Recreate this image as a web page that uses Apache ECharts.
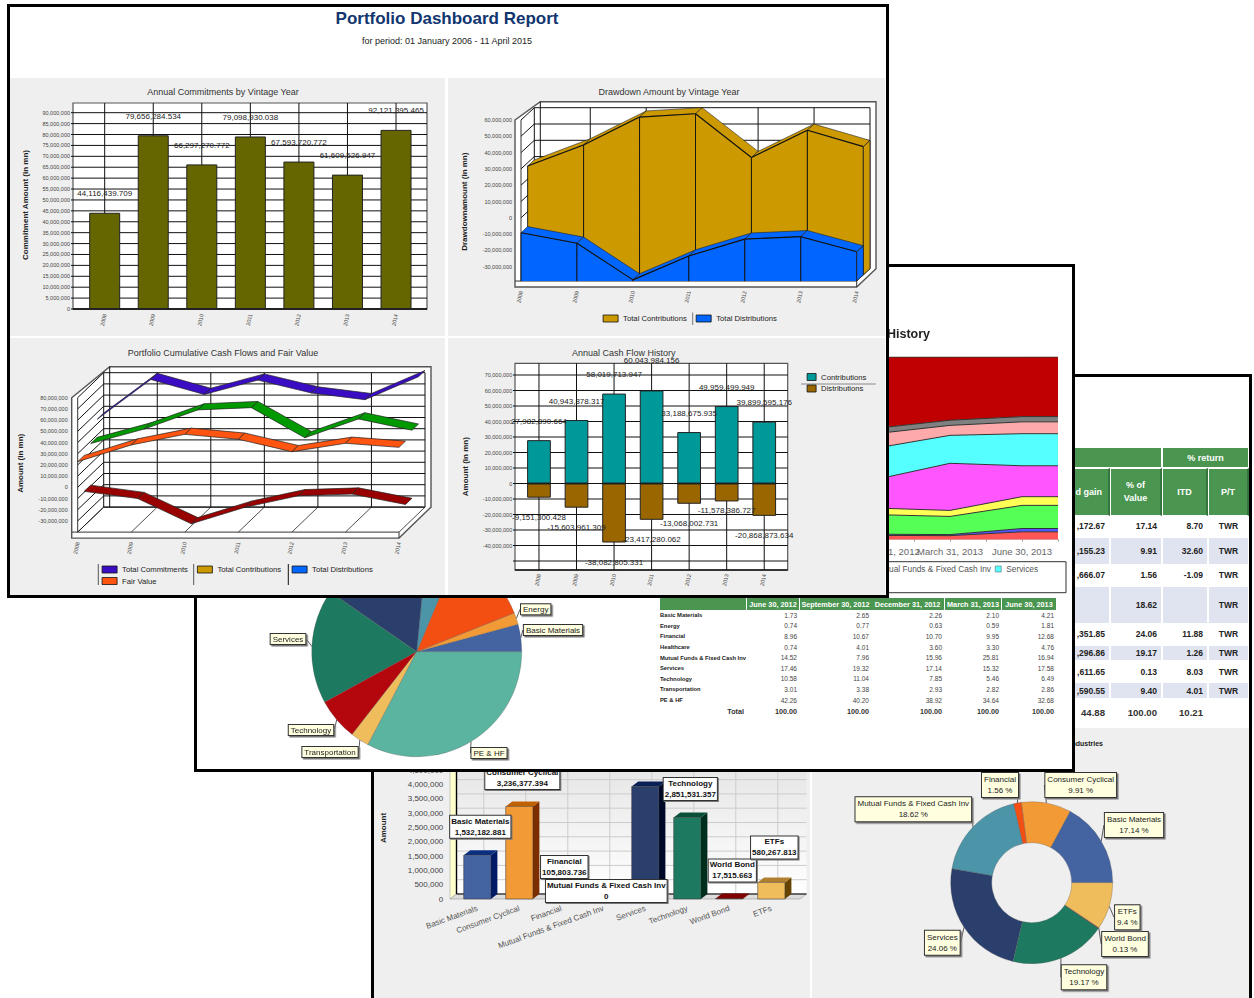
<!DOCTYPE html>
<html>
<head>
<meta charset="utf-8">
<title>Portfolio Dashboard Report</title>
<script src="https://cdn.jsdelivr.net/npm/echarts@6/dist/echarts.min.js"></script>
<style>
  html, body { margin: 0; padding: 0; background: #fff; width: 1254px; height: 998px; overflow: hidden; font-family: 'Liberation Sans', sans-serif; }
  #page { position: absolute; left: 0; top: 0; width: 1254px; height: 998px; overflow: hidden; filter: blur(0.35px); }
  .panel { position: absolute; box-sizing: border-box; border: 3px solid #000; background: #fff; }
  .chart { position: absolute; left: 0; top: 0; width: 1254px; height: 998px; }
  .gray { position: absolute; background: #efefef; }
  table { position: absolute; table-layout: fixed; border-collapse: separate; border-spacing: 0; }
  #allocTable { left: 659px; top: 598px; width: 397px; font-size: 6.5px; color: #444; }
  #allocTable th { background: #4a9650; color: #fff; height: 12px; padding: 0; font-size: 7.3px; border-left: 1px solid #fff; white-space: nowrap; }
  #allocTable th.joined { border-left: 0; }
  #allocTable td { height: 10.6px; padding: 0 2px 0 0; text-align: right; }
  #allocTable td.name { text-align: left; padding-left: 1px; font-weight: bold; font-size: 5.8px; color: #222; white-space: nowrap; }
  #allocTable tr.total td { font-weight: bold; font-size: 7.2px; height: 12px; color: #333; }
  #holdTable { left: 1040px; top: 447px; width: 209px; font-size: 8.5px; font-weight: bold; color: #222; }
  #holdTable th { background: #4a9650; color: #fff; font-size: 9px; padding: 0; border: 1px solid #fff; }
  #holdTable tr.sub th { border-right: 2px solid #36743e; height: 46px; line-height: 13px; }
  #holdTable td { border: 1px solid #fff; padding: 0 4px 0 0; text-align: right; }
  #holdTable tr.band td { background: #e0e4f0; }
  #holdTable td.pt { text-align: center; padding: 0; }
  #holdTable tr.total td { font-size: 9.6px; color: #333; }
</style>
</head>
<body>
<div id="page">
<div class="panel" style="left:371px;top:374px;width:881px;height:630px;z-index:1"></div>
<div class="gray" style="left:374px;top:728px;width:436px;height:270px;z-index:1"></div>
<div class="gray" style="left:812px;top:728px;width:437px;height:270px;z-index:1"></div>
<table id="holdTable" style="z-index:1"></table>
<div id="industries" style="position:absolute;right:151px;top:740px;font:bold 7px 'Liberation Sans';color:#222;z-index:1">Industries</div>
<div class="chart" id="chart-back" style="z-index:2"></div>

<div class="panel" style="left:194px;top:264px;width:881px;height:508px;z-index:3"></div>
<table id="allocTable" style="z-index:3"></table>
<div class="chart" id="chart-mid" style="z-index:4"></div>

<div class="panel" style="left:7px;top:4px;width:882px;height:594px;z-index:5"></div>
<div class="gray" style="left:10px;top:78px;width:435px;height:258px;z-index:5"></div>
<div class="gray" style="left:448px;top:78px;width:437px;height:258px;z-index:5"></div>
<div class="gray" style="left:10px;top:338px;width:435px;height:257px;z-index:5"></div>
<div class="gray" style="left:448px;top:338px;width:437px;height:257px;z-index:5"></div>
<div class="chart" id="chart-front" style="z-index:6"></div>
</div>

<script>
var years = ['2008', '2009', '2010', '2011', '2012', '2013', '2014'];

var commitments = [44116439.709, 79656284.534, 66297270.772, 79098930.038, 67593720.772, 61609526.947, 82121395.465];
var commitmentLabels = ['44,116,439.709', '79,656,284.534', '66,297,270.772', '79,098,930.038', '67,593,720.772', '61,609,526.947', '92,121,395.465'];
var contributions = [27982890.664, 40943878.317, 58019713.947, 60043984.156, 33188675.935, 49959499.949, 39899595.176];
var contributionLabels = ['27,982,890.664', '40,943,878.317', '58,019,713.947', '60,043,984.156', '33,188,675.935', '49,959,499.949', '39,899,595.176'];
var distributions = [-9151300.428, -15603961.309, -38082805.331, -23417280.062, -13068002.731, -11578386.727, -20868873.634];
var distributionLabels = ['-9,151,300.428', '-15,603,961.309', '-38,082,805.331', '-23,417,280.062', '-13,068,002.731', '-11,578,386.727', '-20,868,873.634'];
var fairValue = [22900000, 37800000, 47300000, 42900000, 31800000, 39300000, 35700000];

var allocDates = ['June 30, 2012', 'September 30, 2012', 'December 31, 2012', 'March 31, 2013', 'June 30, 2013'];
var allocNames = ['Basic Materials', 'Energy', 'Financial', 'Healthcare', 'Mutual Funds & Fixed Cash Inv', 'Services', 'Technology', 'Transportation', 'PE & HF'];
var allocBasic = [1.73, 2.65, 2.26, 2.10, 4.21];
var allocEnergy = [0.74, 0.77, 0.63, 0.59, 1.81];
var allocFinancial = [8.96, 10.67, 10.70, 9.95, 12.68];
var allocHealthcare = [0.74, 4.01, 3.60, 3.30, 4.76];
var allocMutual = [14.52, 7.96, 15.96, 25.81, 16.94];
var allocServices = [17.46, 19.32, 17.14, 15.32, 17.58];
var allocTechnology = [10.58, 11.04, 7.85, 5.46, 6.49];
var allocTransportation = [3.01, 3.38, 2.93, 2.82, 2.86];
var allocPeHf = [42.26, 40.20, 38.92, 34.64, 32.68];
var allocRows = [allocBasic, allocEnergy, allocFinancial, allocHealthcare, allocMutual, allocServices, allocTechnology, allocTransportation, allocPeHf];

var industryNames = ['Basic Materials', 'Consumer Cyclical', 'Financial', 'Mutual Funds & Fixed Cash Inv', 'Services', 'Technology', 'World Bond', 'ETFs'];
var industryAmounts = [1532182.881, 3236377.394, 105803.736, 0, 3930000, 2851531.357, 17515.663, 580267.813];
var industryAmountLabels = ['1,532,182.881', '3,236,377.394', '105,803.736', '0', '3,930,000', '2,851,531.357', '17,515.663', '580,267.813'];
var industryPct = [17.14, 9.91, 1.56, 18.62, 24.06, 19.17, 0.13, 9.40];

var holdGain = [',172.67', ',155.23', ',666.07', '', ',351.85', ',296.86', ',611.65', ',590.55', '44.88'];
var holdPct = ['17.14', '9.91', '1.56', '18.62', '24.06', '19.17', '0.13', '9.40', '100.00'];
var holdItd = ['8.70', '32.60', '-1.09', '', '11.88', '1.26', '8.03', '4.01', '10.21'];
var holdPt = ['TWR', 'TWR', 'TWR', 'TWR', 'TWR', 'TWR', 'TWR', 'TWR', ''];

var font = "'Liberation Sans', sans-serif";

// --- html tables ---
var html = '<tr><th></th>' + allocDates.map(function(d, i) { return '<th' + (i === 2 ? ' class="joined"' : '') + '>' + d + '</th>'; }).join('') + '</tr>';
allocNames.forEach(function(name, i) {
  html += '<tr><td class="name">' + name.replace(/&/g, '&amp;') + '</td>' + allocRows[i].map(function(v) { return '<td>' + v.toFixed(2) + '</td>'; }).join('') + '</tr>';
});
html += '<tr class="total"><td>Total</td>' + allocDates.map(function() { return '<td>100.00</td>'; }).join('') + '</tr>';
var allocTable = document.getElementById('allocTable');
allocTable.innerHTML = '<colgroup><col style="width:87px"><col style="width:53px"><col style="width:72px"><col style="width:73px"><col style="width:57px"><col style="width:55px"></colgroup>' + html;

var holdHeights = [20.5, 28, 21, 38, 21, 16.7, 21.3, 16.7, 27.3];
html = '<colgroup><col style="width:70px"><col style="width:52px"><col style="width:46px"><col style="width:41px"></colgroup>';
html += '<tr style="height:21px"><th colspan="2"></th><th colspan="2">% return</th></tr>';
html += '<tr class="sub"><th style="text-align:right;padding-right:6px">d gain</th><th>% of<br>Value</th><th>ITD</th><th>P/T</th></tr>';
holdGain.forEach(function(g, i) {
  var cls = i === 8 ? 'total' : (i % 2 ? 'band' : '');
  html += '<tr class="' + cls + '" style="height:' + holdHeights[i] + 'px"><td>' + g + '</td><td>' + holdPct[i] + '</td><td>' + holdItd[i] + '</td><td class="pt">' + holdPt[i] + '</td></tr>';
});
document.getElementById('holdTable').innerHTML = html;

// --- small drawing helpers for the pseudo 3d marks ---
function poly(points, fill, stroke, lw) {
  return { type: 'polygon', shape: { points: points }, style: { fill: fill, stroke: stroke || null, lineWidth: lw || 0 } };
}
function seg(x1, y1, x2, y2, stroke, lw) {
  return { type: 'line', shape: { x1: x1, y1: y1, x2: x2, y2: y2 }, style: { stroke: stroke, lineWidth: lw || 1 } };
}
function pt(p, dx, dy) { return [p[0] + dx, p[1] + dy]; }

function titleAt(text, x, y, size, color, weight) {
  return { text: text, left: x, top: y - size * 0.65, textAlign: 'center', padding: 0, textStyle: { fontSize: size, color: color || '#333', fontWeight: weight || 'normal', fontFamily: font } };
}
function axisName(text, x, y) {
  return { type: 'text', x: x, y: y, rotation: Math.PI / 2, silent: true, style: { text: text, font: 'bold 8px ' + font, fill: '#222', align: 'center', verticalAlign: 'middle' } };
}
function catAxis(grid, margin, gap) {
  return {
    type: 'category', gridIndex: grid, data: years, boundaryGap: gap,
    axisLine: { show: false }, axisTick: { show: false }, splitLine: { show: false },
    axisLabel: { interval: 0, rotate: 78, fontSize: 5.5, color: '#444', margin: margin, fontFamily: font }
  };
}
function valAxis(grid, min, max, interval, margin) {
  return {
    type: 'value', gridIndex: grid, min: min, max: max, interval: interval,
    axisLine: { show: false }, axisTick: { show: false }, splitLine: { show: false },
    axisLabel: { fontSize: 5.5, color: '#444', margin: margin, fontFamily: font, showMinLabel: min === 0 }
  };
}

// flat chart frame: wider than the band area, so it is drawn here rather than by the axes
function flatFrame(grid, box, ticks) {
  return {
    type: 'custom', xAxisIndex: grid, yAxisIndex: grid, silent: true, z: 1, data: [[0, 0]],
    renderItem: function(params, api) {
      var kids = [{ type: 'rect', shape: { x: box.l, y: box.t, width: box.r - box.l, height: box.b - box.t }, style: { fill: '#fff', stroke: '#555', lineWidth: 1.2 } }];
      ticks.forEach(function(t) {
        var y = api.coord([0, t])[1];
        kids.push(seg(box.l - 2, y, box.r, y, '#111', 1));
      });
      years.forEach(function(c, i) {
        var x = api.coord([i, 0])[0];
        kids.push(seg(x, box.t, x, box.b, '#111', 1));
      });
      kids.push(seg(box.l, box.b, box.r, box.b, '#111', 1.3));
      return { type: 'group', children: kids };
    }
  };
}

// box with back wall, side wall, floor and a thick outer rim
function wallFrame(grid, cfg) {
  return {
    type: 'custom', xAxisIndex: grid, yAxisIndex: grid, silent: true, z: 1, data: [[0, 0]],
    renderItem: function(params, api) {
      var xa = api.coord([0, 0])[0], xb = api.coord([years.length - 1, 0])[0];
      var yt = api.coord([0, cfg.top])[1], yb = api.coord([0, cfg.floor])[1];
      var dx = cfg.dx, dy = cfg.dy, e = cfg.edge;
      var kids = [poly([[xa - e, yt], [xa - e + dx + 2 * e, yt + dy - e], [xb + dx + e, yt + dy - e], [xb + dx + e, yb + dy], [xb, yb + e], [xa - e, yb + e]], '#fff', '#555', 1.4)];
      cfg.ticks.forEach(function(t) {
        var y = api.coord([0, t])[1];
        kids.push({ type: 'polyline', shape: { points: [[xa, y], [xa + dx, y + dy], [xb + dx, y + dy]] }, style: { fill: null, stroke: '#111', lineWidth: 1 } });
      });
      years.forEach(function(c, i) {
        var x = api.coord([i, 0])[0];
        kids.push(seg(x + dx, yt + dy, x + dx, yb + dy, '#111', 1));
        kids.push(seg(x, yb, x + dx, yb + dy, '#222', 0.8));
      });
      kids.push(seg(xa + dx + e, yt + dy - e, xa + dx + e, yb + dy, '#111', 1));
      kids.push(seg(xa + dx, yb + dy, xb + dx, yb + dy, '#111', 1));
      kids.push(seg(xa, yt, xa, yb, '#333', 1));
      kids.push(seg(xa - e, yb, xb, yb, '#333', 1));
      kids.push(seg(xb, yb, xb, yb + e, '#333', 1));
      return { type: 'group', children: kids };
    }
  };
}

// one band of a 3d area, from its value down to the floor
function area3d(name, values, grid, row, color, floor, rowDx, rowDy) {
  return {
    type: 'custom', name: name, xAxisIndex: grid, yAxisIndex: grid, silent: true, z: 2,
    itemStyle: { color: color },
    data: values.map(function(v, i) { return [i, v]; }),
    renderItem: function(params, api) {
      var i = params.dataIndex, ox = row * rowDx, oy = row * rowDy;
      var p0 = pt(api.coord([i, values[i]]), ox, oy);
      var base0 = pt(api.coord([i, floor]), ox, oy);
      if (i === values.length - 1) {
        return { type: 'group', children: [
          poly([p0, pt(p0, rowDx, rowDy), pt(base0, rowDx, rowDy), base0], color, '#222', 0.8)
        ] };
      }
      var p1 = pt(api.coord([i + 1, values[i + 1]]), ox, oy);
      var base1 = pt(api.coord([i + 1, floor]), ox, oy);
      return { type: 'group', children: [
        poly([p0, p1, pt(p1, rowDx, rowDy), pt(p0, rowDx, rowDy)], color, '#222', 0.6),
        poly([p0, p1, base1, base0], color, null, 0),
        seg(p0[0], p0[1], p1[0], p1[1], '#111', 1.1),
        seg(p0[0], p0[1], base0[0], base0[1], '#111', 0.9),
        seg(p1[0], p1[1], base1[0], base1[1], '#111', 0.9)
      ] };
    }
  };
}

// one flat ribbon of the 3d line chart
function ribbon3d(name, values, grid, row, color, rowDx, rowDy) {
  return {
    type: 'custom', name: name, xAxisIndex: grid, yAxisIndex: grid, silent: true, z: 2,
    itemStyle: { color: color },
    data: values.map(function(v, i) { return [i, v]; }),
    renderItem: function(params, api) {
      var i = params.dataIndex;
      if (i === values.length - 1) return null;
      var p0 = pt(api.coord([i, values[i]]), row * rowDx, row * rowDy);
      var p1 = pt(api.coord([i + 1, values[i + 1]]), row * rowDx, row * rowDy);
      return poly([p0, p1, pt(p1, rowDx, rowDy), pt(p0, rowDx, rowDy)], color, '#222', 0.7);
    }
  };
}

function barLabel(labels, pos, distance) {
  return {
    show: true, position: pos, distance: distance, fontSize: 8, color: '#222', fontFamily: font,
    formatter: function(p) { return labels[p.dataIndex]; }
  };
}

// --- front panel: four dashboard charts ---
var tick5m = []; for (var t5 = 0; t5 <= 90; t5 += 5) tick5m.push(t5 * 1e6);
var tick10a = [-30, -20, -10, 0, 10, 20, 30, 40, 50, 60].map(function(v) { return v * 1e6; });
var tick10b = [-40, -30, -20, -10, 0, 10, 20, 30, 40, 50, 60, 70, 80].map(function(v) { return v * 1e6; });
var tick10c = [-50, -40, -30, -20, -10, 0, 10, 20, 30, 40, 50, 60, 70].map(function(v) { return v * 1e6; });

var legendBase = { icon: 'rect', itemWidth: 15, itemHeight: 7, itemStyle: { borderColor: '#111', borderWidth: 0.8 }, textStyle: { fontSize: 7.7, color: '#222', fontFamily: font } };
function legendAt(left, top, data, orient, gap) {
  return Object.assign({}, legendBase, { left: left, top: top, data: data, orient: orient || 'horizontal', itemGap: gap || 5, padding: 0 });
}

var chartFront = echarts.init(document.getElementById('chart-front'), null, { renderer: 'svg' });
chartFront.setOption({
  animation: false,
  textStyle: { fontFamily: font },
  title: [
    titleAt('Portfolio Dashboard Report', 447, 21, 17, '#11356f', 'bold'),
    titleAt('for period: 01 January 2006 - 11 April 2015', 447, 42, 9, '#222'),
    titleAt('Annual Commitments by Vintage Year', 223, 93.5, 9),
    titleAt('Drawdown Amount by Vintage Year', 669, 93.5, 9),
    titleAt('Portfolio Cumulative Cash Flows and Fair Value', 223, 354.3, 9),
    titleAt('Annual Cash Flow History', 623.7, 354, 9)
  ],
  grid: [
    { left: 80.4, top: 112.7, width: 339.9, height: 196.3 },
    { left: 521, top: 120, width: 335.7, height: 163 },
    { left: 77.7, top: 397.7, width: 321.3, height: 134.4 },
    { left: 520.2, top: 375, width: 262.8, height: 186 }
  ],
  xAxis: [catAxis(0, 5, true), catAxis(1, 8, false), catAxis(2, 10, false), catAxis(3, 13, true)],
  yAxis: [
    valAxis(0, 0, 90000000, 5000000, 10.4),
    valAxis(1, -40000000, 60000000, 10000000, 9),
    valAxis(2, -40000000, 80000000, 10000000, 10),
    valAxis(3, -50000000, 70000000, 10000000, 8)
  ],
  legend: [
    legendAt(602.7, 314.5, ['Total Contributions', 'Total Distributions'], 'horizontal', 9),
    legendAt(101.7, 565.5, ['Total Commitments', 'Fair Value'], 'vertical', 3.5),
    legendAt(197, 565.5, ['Total Contributions']),
    legendAt(291.7, 565.5, ['Total Distributions']),
    Object.assign({}, legendBase, { left: 806.7, top: 373, data: ['Contributions', 'Distributions'], orient: 'vertical', itemWidth: 9, itemGap: 3.5, padding: 0 })
  ],
  graphic: { elements: [
    axisName('Commitment Amount (in mn)', 25, 205),
    axisName('Drawdownamount (in mn)', 464.3, 201.7),
    axisName('Amount (in mn)', 20.7, 463.3),
    axisName('Amount (in mn)', 465, 466.7),
    { type: 'line', shape: { x1: 692.7, y1: 312.5, x2: 692.7, y2: 325 }, style: { stroke: '#777', lineWidth: 1 } },
    { type: 'line', shape: { x1: 98.3, y1: 564, x2: 98.3, y2: 585 }, style: { stroke: '#555', lineWidth: 1 } },
    { type: 'line', shape: { x1: 193.7, y1: 564, x2: 193.7, y2: 585 }, style: { stroke: '#555', lineWidth: 1 } },
    { type: 'line', shape: { x1: 288.3, y1: 564, x2: 288.3, y2: 585 }, style: { stroke: '#111', lineWidth: 1 } },
    { type: 'line', shape: { x1: 801, y1: 384, x2: 875.7, y2: 384 }, style: { stroke: '#888', lineWidth: 1 } }
  ] },
  series: [
    flatFrame(0, { l: 73, r: 427, t: 103, b: 309 }, tick5m),
    {
      type: 'bar', name: 'Commitments', xAxisIndex: 0, yAxisIndex: 0, z: 2, barWidth: 31, data: commitments,
      itemStyle: { color: '#666600', borderColor: '#222', borderWidth: 1 },
      label: barLabel(commitmentLabels, 'top', 15)
    },
    wallFrame(1, { top: 60000000, floor: -38800000, ticks: tick10a, dx: 13.3, dy: -12.3, edge: 6 }),
    area3d('Total Contributions', contributions, 1, 1, '#cc9900', -38800000, 6.65, -6.15),
    area3d('Total Distributions', distributions, 1, 0, '#0066ff', -38800000, 6.65, -6.15),
    wallFrame(2, { top: 80000000, floor: -40000000, ticks: tick10b, dx: 26, dy: -25, edge: 6 }),
    ribbon3d('Total Commitments', commitments, 2, 3, '#3a0cc4', 6.5, -6.2),
    ribbon3d('Total Contributions', contributions, 2, 2, '#009900', 6.5, -6.2),
    ribbon3d('Total Distributions', distributions, 2, 1, '#990000', 6.5, -6.2),
    ribbon3d('Fair Value', fairValue, 2, 0, '#ff5511', 6.5, -6.2),
    flatFrame(3, { l: 515, r: 787.7, t: 363.3, b: 570 }, tick10c),
    {
      type: 'bar', name: 'Contributions', xAxisIndex: 3, yAxisIndex: 3, z: 2, barWidth: 23.7, stack: 'flow',
      data: contributions.map(function(v, i) { return i === 3 ? { value: v, label: { distance: 26 } } : v; }),
      itemStyle: { color: '#009999', borderColor: '#222', borderWidth: 1 },
      label: barLabel(contributionLabels, 'top', 15)
    },
    {
      type: 'bar', name: 'Distributions', xAxisIndex: 3, yAxisIndex: 3, z: 2, barWidth: 23.7, stack: 'flow',
      data: distributions.map(function(v, i) { return i === 5 ? { value: v, label: { distance: 5 } } : v; }),
      itemStyle: { color: '#996600', borderColor: '#222', borderWidth: 1 },
      label: barLabel(distributionLabels, 'bottom', 16)
    }
  ]
});

// --- middle panel: allocation history and pie ---
var areaColors = ['#ff5555', '#5555ff', '#55ff55', '#ffff55', '#ff55ff', '#55ffff', '#ffaaaa', '#808080', '#c00000'];
var pieColors = ['#4363a1', '#f29a35', '#f44f13', '#4c95a8', '#2a3f6b', '#1d7a60', '#b4070d', '#f0bd5c', '#5bb49f'];
var pieLabelPos = {
  'Basic Materials': [553, 630], 'Energy': [535.7, 609.3], 'Services': [288, 639],
  'Technology': [311, 730], 'Transportation': [330, 752], 'PE & HF': [489, 753],
  'Financial': [470, 580], 'Healthcare': [420, 580], 'Mutual Funds & Fixed Cash Inv': [300, 580]
};
var lastCol = allocDates.length - 1;
var noteBox = { backgroundColor: '#ffffe0', borderColor: '#333', borderWidth: 1, padding: [1, 2], color: '#222', fontFamily: font, shadowColor: '#777', shadowOffsetX: 1.5, shadowOffsetY: 1.5 };

var chartMid = echarts.init(document.getElementById('chart-mid'), null, { renderer: 'svg' });
chartMid.setOption({
  animation: false,
  textStyle: { fontFamily: font },
  title: [{ text: 'History', left: 887, top: 327, padding: 0, textStyle: { fontSize: 12.5, fontWeight: 'bold', color: '#222', fontFamily: font } }],
  grid: [{ left: 734, top: 357, width: 324, height: 182.5 }],
  xAxis: [{
    type: 'value', min: 0, max: 4.5, interval: 0.5,
    axisLine: { lineStyle: { color: '#ccc' } },
    axisTick: { length: 2, lineStyle: { color: '#999' } },
    splitLine: { show: true, lineStyle: { color: 'rgba(255,255,255,0.3)' } },
    axisLabel: {
      fontSize: 9.5, color: '#666', margin: 7, hideOverlap: false, fontFamily: font,
      // the first two dates sit behind the front panel
      formatter: function(v) { return v >= 2 ? (allocDates[v] || '') : ''; }
    }
  }],
  yAxis: [{ type: 'value', min: 0, max: 100, show: false }],
  legend: [{
    left: 864, top: 565, padding: 0, itemWidth: 6, itemHeight: 6, itemGap: 4, icon: 'rect',
    data: ['Mutual Funds & Fixed Cash Inv', 'Services'],
    itemStyle: { borderColor: '#555', borderWidth: 0.5 },
    textStyle: { fontSize: 8.3, color: '#555', fontFamily: font }
  }],
  graphic: { elements: [
    { type: 'rect', shape: { x: 800, y: 561.7, width: 266, height: 31 }, style: { fill: 'transparent', stroke: '#333', lineWidth: 1 } }
  ] },
  series: allocNames.map(function(name, k) {
    return {
      type: 'line', name: name, stack: 'alloc', symbol: 'none', z: 2,
      color: areaColors[k],
      lineStyle: { color: '#333', width: 1 },
      areaStyle: { color: areaColors[k], opacity: 1 },
      itemStyle: { color: areaColors[k] },
      // value first, so the stack sums the y values and not the x positions
      encode: { x: 1, y: 0 },
      // the last date is held flat to the right edge of the plot
      data: allocRows[k].map(function(v, i) { return [v, i]; }).concat([[allocRows[k][lastCol], 4.5]])
    };
  }).concat([{
    type: 'pie', name: 'Allocation', center: [416.7, 651.7], radius: 105, startAngle: 0, clockwise: false, z: 3,
    avoidLabelOverlap: false,
    data: allocNames.map(function(name, k) {
      return { name: name, value: allocRows[k][lastCol], itemStyle: { color: pieColors[k] } };
    }),
    itemStyle: { borderColor: '#555', borderWidth: 0.3 },
    label: Object.assign({ fontSize: 8, position: 'outside' }, noteBox),
    labelLine: { show: true, length: 5, length2: 0, lineStyle: { color: '#333', width: 0.8 } },
    labelLayout: function(p) {
      var pos = pieLabelPos[allocNames[p.dataIndex]];
      return { x: pos[0], y: pos[1], align: 'center', verticalAlign: 'middle' };
    }
  }])
});

// --- back panel: 3d bars and donut ---
var barFront = ['#4363a1', '#f29a35', '#f44f13', '#4c95a8', '#2a3f6b', '#1d7a60', '#b4070d', '#f0bd5c'];
var barTop = ['#0a2f80', '#c06000', '#a03000', '#2f6a80', '#0a1f55', '#0a5038', '#800000', '#b08030'];
var barSide = ['#001a66', '#7d2e00', '#702000', '#1f4f60', '#000828', '#002e1c', '#500000', '#664400'];
var donutColors = ['#4363a1', '#f29a35', '#f44f13', '#4c95a8', '#2a3f6b', '#1d7a60', '#b4070d', '#f0bd5c'];
var donutLabelPos = {
  'Basic Materials': [1134, 825], 'Consumer Cyclical': [1080.7, 785], 'Financial': [1000, 785],
  'Mutual Funds & Fixed Cash Inv': [913.3, 809.3], 'Services': [942.3, 942.7], 'Technology': [1084, 977.3],
  'World Bond': [1125, 944], 'ETFs': [1127.3, 917.3]
};
var barTicks = [0, 500000, 1000000, 1500000, 2000000, 2500000, 3000000, 3500000, 4000000, 4500000, 5000000];
var boxGap = [17.5, 17.5, 18, -3, 17.5, 17.5, 17, 24];
var barDx = 6.5, barDy = -5;

var chartBack = echarts.init(document.getElementById('chart-back'), null, { renderer: 'svg' });
chartBack.setOption({
  animation: false,
  textStyle: { fontFamily: font },
  grid: [{ left: 456.3, top: 756, width: 336, height: 143 }],
  xAxis: [{
    type: 'category', data: industryNames,
    axisLine: { show: false }, axisTick: { show: false },
    axisLabel: { interval: 0, rotate: 20, fontSize: 8, color: '#555', margin: 9, fontFamily: font }
  }],
  yAxis: [{
    type: 'value', min: 0, max: 5000000, interval: 500000,
    axisLine: { show: false }, axisTick: { show: false }, splitLine: { show: false },
    axisLabel: { fontSize: 8, color: '#444', margin: 13, fontFamily: font }
  }],
  graphic: { elements: [axisName('Amount', 383.7, 828)] },
  series: [
    {
      type: 'custom', silent: true, z: 1, data: [[0, 0]],
      renderItem: function(params, api) {
        var y0 = api.coord([0, 0])[1], yt = api.coord([0, 5000000])[1];
        var xa = 450, xb = 800;
        var kids = [
          poly([[xa + barDx, yt], [xb + barDx, yt], [xb + barDx, y0 + barDy], [xa + barDx, y0 + barDy]], {
            type: 'linear', x: 0, y: 0, x2: 0, y2: 1,
            colorStops: [{ offset: 0, color: '#e4e4e4' }, { offset: 1, color: '#ffffff' }]
          }),
          poly([[xa, yt], [xa + barDx, yt], [xa + barDx, y0 + barDy], [xa, y0]], '#ffffcc', '#aaa', 0.6),
          poly([[xa, y0], [xb, y0], [xb + barDx, y0 + barDy], [xa + barDx, y0 + barDy]], '#dcdcdc', '#999', 0.6)
        ];
        barTicks.forEach(function(t) {
          var y = api.coord([0, t])[1] + barDy;
          kids.push(seg(xa + barDx, y, xb + barDx, y, '#ccc', 1));
        });
        industryNames.forEach(function(n, i) {
          var x = api.coord([i, 0])[0] + barDx;
          kids.push(seg(x, yt, x, y0 + barDy, '#ccc', 1));
        });
        kids.push(seg(xa + barDx, yt, xa + barDx, y0 + barDy, '#000', 1.4));
        kids.push(seg(xa + barDx, y0 + barDy, xb + barDx, y0 + barDy, '#000', 1.2));
        return { type: 'group', children: kids };
      }
    },
    {
      type: 'custom', name: 'Amount', silent: true, z: 2,
      data: industryAmounts.map(function(v, i) { return [i, v]; }),
      renderItem: function(params, api) {
        var i = params.dataIndex, w = 13.6;
        var a = api.coord([i, api.value(1)]), b = api.coord([i, 0]);
        if (api.value(1) === 0) return null;
        var l = a[0] - w, r = a[0] + w;
        return { type: 'group', children: [
          poly([[r, a[1]], [r + barDx, a[1] + barDy], [r + barDx, b[1] + barDy], [r, b[1]]], barSide[i]),
          poly([[l, a[1]], [r, a[1]], [r + barDx, a[1] + barDy], [l + barDx, a[1] + barDy]], barTop[i]),
          poly([[l, a[1]], [r, a[1]], [r, b[1]], [l, b[1]]], barFront[i], '#333', 0.5)
        ] };
      }
    },
    {
      type: 'custom', name: 'Amount labels', silent: true, z: 3,
      data: industryAmounts.map(function(v, i) { return [i, v]; }),
      renderItem: function(params, api) {
        var i = params.dataIndex, a = api.coord([i, api.value(1)]);
        return {
          type: 'text', x: a[0] + 3, y: a[1] - boxGap[i],
          style: {
            text: industryNames[i] + '\n' + industryAmountLabels[i], font: 'bold 8px ' + font, lineHeight: 11, fill: '#111',
            align: 'center', verticalAlign: 'bottom', backgroundColor: '#fff', borderColor: '#333', borderWidth: 1, padding: [0, 1],
            shadowColor: '#777', shadowOffsetX: 1, shadowOffsetY: 1
          }
        };
      }
    },
    {
      type: 'pie', name: 'Industries', center: [1031.7, 882.7], radius: [40, 81], startAngle: 0, clockwise: false, z: 3,
      avoidLabelOverlap: false,
      data: industryNames.map(function(name, k) {
        return { name: name, value: industryPct[k], itemStyle: { color: donutColors[k] } };
      }),
      itemStyle: { borderColor: '#555', borderWidth: 0.3 },
      label: Object.assign({ fontSize: 8, lineHeight: 11, position: 'outside', formatter: function(p) { return p.name + '\n' + p.value + ' %'; } }, noteBox),
      labelLine: { show: true, length: 5, length2: 0, lineStyle: { color: '#333', width: 0.8 } },
      labelLayout: function(p) {
        var pos = donutLabelPos[industryNames[p.dataIndex]];
        return { x: pos[0], y: pos[1], align: 'center', verticalAlign: 'middle' };
      }
    }
  ]
});

window.addEventListener('resize', function() { chartFront.resize(); chartMid.resize(); chartBack.resize(); });
</script>
</body>
</html>
